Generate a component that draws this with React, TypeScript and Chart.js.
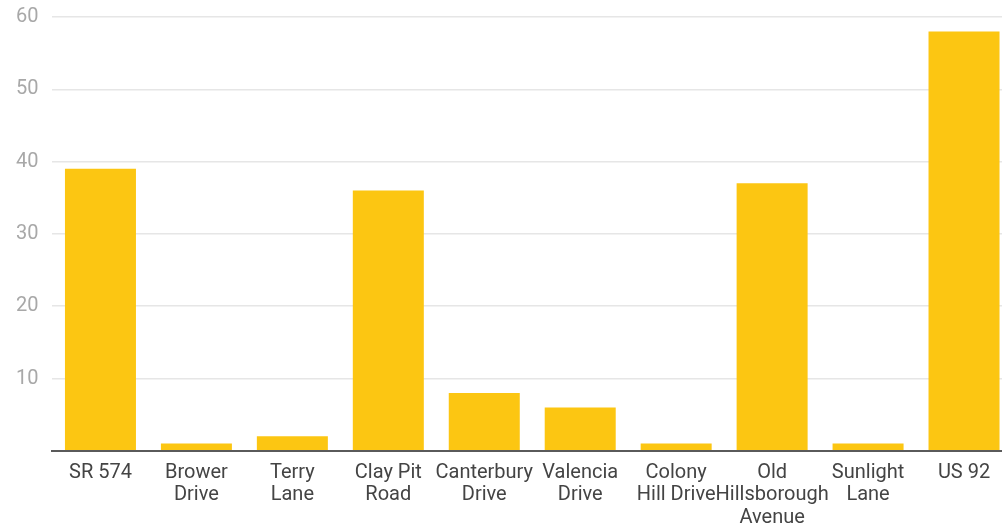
import React, { useEffect, useRef } from "react";
import { Chart, registerables } from "chart.js";

Chart.register(...registerables);

const categories: (string | string[])[] = [
  "SR 574",
  ["Brower", "Drive"],
  ["Terry", "Lane"],
  ["Clay Pit", "Road"],
  ["Canterbury", "Drive"],
  ["Valencia", "Drive"],
  ["Colony", "Hill Drive"],
  ["Old", "Hillsborough", "Avenue"],
  ["Sunlight", "Lane"],
  "US 92",
];

const values: number[] = [39, 1, 2, 36, 8, 6, 1, 37, 1, 58];

const yTicks: number[] = [0, 10, 20, 30, 40, 50, 60];

export default function App() {
  const canvasRef = useRef<HTMLCanvasElement | null>(null);

  useEffect(() => {
    document.body.style.margin = "0";
    document.body.style.overflow = "hidden";
    const canvas = canvasRef.current;
    if (!canvas) return;
    const chart = new Chart(canvas, {
      type: "bar",
      data: {
        labels: categories,
        datasets: [
          {
            data: values,
            backgroundColor: "#FCC612",
            borderWidth: 0,
            barPercentage: 0.74,
            categoryPercentage: 1,
          },
        ],
      },
      options: {
        animation: false,
        responsive: false,
        maintainAspectRatio: false,
        layout: { padding: { top: 0, left: 2, right: 0, bottom: 0 } },
        plugins: {
          legend: { display: false },
          tooltip: { enabled: false },
        },
        scales: {
          x: {
            grid: { display: false, drawTicks: false },
            border: { display: true, color: "#5a5a5a", width: 2 },
            ticks: {
              autoSkip: false,
              maxRotation: 0,
              minRotation: 0,
              padding: 11,
              color: "#444444",
              font: { family: "Roboto", size: 20, lineHeight: 1.12 },
            },
          },
          y: {
            min: 0,
            max: 60,
            afterBuildTicks: (scale: any) => {
              scale.ticks = yTicks.map((v) => ({ value: v }));
            },
            grid: { color: "#e6e6e6", lineWidth: 1.5, drawTicks: false },
            border: { display: false },
            ticks: {
              padding: 14,
              color: "#a8a8a8",
              font: { family: "Roboto", size: 20 },
              callback: (v: any) => (v === 0 ? "" : String(v)),
            },
          },
        },
      },
    });
    return () => chart.destroy();
  }, []);

  return (
    <div style={{ position: "fixed", left: 0, top: 0, width: 1002, height: 525, overflow: "hidden", background: "#fff" }}>
      <canvas
        ref={canvasRef}
        width={1012}
        height={549}
        style={{ position: "absolute", left: 0, top: -9, width: 1012, height: 549, display: "block" }}
      />
    </div>
  );
}
